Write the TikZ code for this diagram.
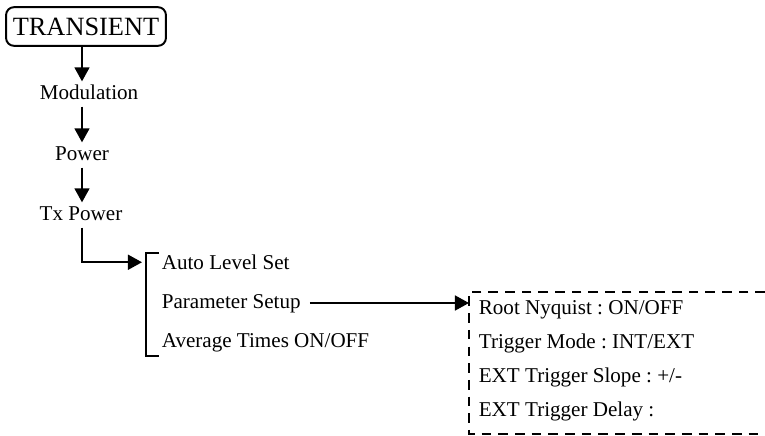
\documentclass[tikz,border=0pt]{standalone}
\usepackage{fontspec}
\setmainfont{Liberation Serif}
\usetikzlibrary{arrows.meta,positioning}
\frenchspacing

\begin{document}
\begin{tikzpicture}[x=0.02cm,y=-0.02cm,
    topbox/.style={draw,rounded corners=4.5pt,line width=1.1pt,minimum width=91pt,
        minimum height=22pt,inner sep=1pt,font=\fontsize{15}{18}\selectfont},
    menu/.style={inner sep=2pt,text height=8pt,text depth=2pt,
        font=\fontsize{12}{14}\selectfont},
    flow/.style={-{Triangle[length=8pt,width=8.5pt]},line width=1.1pt},
    dashbox/.style={line width=0.85pt,dash pattern=on 5.5pt off 4pt}]
\useasboundingbox (0,0) rectangle (765,436);
\coordinate (spine) at (82,0);
\coordinate (brk) at (142,0);
\coordinate (sub) at (469,0);

\node[topbox] (transient) at (86,26.5) {TRANSIENT};
\node[menu] (modulation) at (89,94) {Modulation};
\node[menu] (power) at (82,155) {Power};
\node[menu] (txpower) at (81,215) {Tx Power};
\draw[flow] (transient.south -| spine) -- (modulation.north -| spine);
\draw[flow] (modulation.south -| spine) -- (power.north -| spine);
\draw[flow] (power.south -| spine) -- (txpower.north -| spine);

% second level
\node[menu,anchor=west] (auto) at (158,264) {Auto Level Set};
\node[menu,anchor=west] (param) at (158,303) {Parameter Setup};
\node[menu,anchor=west] (average) at (158,342) {Average Times ON/OFF};
\draw[line width=1.1pt] (159,253) -| (146,356) -- (159,356);
\draw[flow] (txpower.south -| spine) |- ([yshift=1pt]auto.west -| brk);

% parameter setup items
\node[menu,anchor=west] (root) at (475,309) {Root Nyquist : ON/OFF};
\node[menu,anchor=west] (trigger) at (475,343) {Trigger Mode : INT/EXT};
\node[menu,anchor=west] (slope) at (475,377) {EXT Trigger Slope : +/-};
\node[menu,anchor=west] (delay) at (475,411) {EXT Trigger Delay :};
\draw[dashbox] (765,292) -| (469,434) -- (765,434);
\draw[flow,shorten <=3pt] (param.east) -- (param.east -| sub);
\end{tikzpicture}
\end{document}
